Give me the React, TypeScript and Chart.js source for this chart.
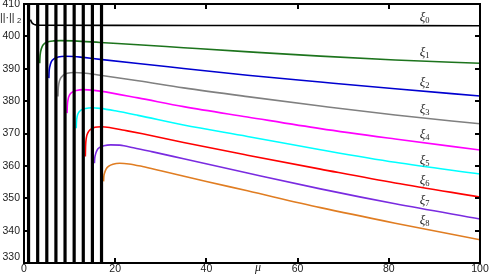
import React, { useEffect, useRef } from "react";
import { Chart, registerables } from "chart.js";

Chart.register(...registerables);

// vertical black bars (μ positions)
const barMu = [1, 3, 5, 7, 9, 11, 13, 15, 17];

// axis ticks
const xTicks = [0, 20, 40, 60, 80, 100];
const yTicks = [330, 340, 350, 360, 370, 380, 390, 400, 410];

// series: μ values and norms
const xi0Mu = [1.4, 1.7, 2.1, 2.6, 3.5, 20, 50, 100];
const xi0Val = [405.2, 404.3, 403.8, 403.55, 403.45, 403.4, 403.35, 403.3];

const xi1Mu = [3.45, 3.5, 3.65, 4.0, 4.6, 5.5, 6.5, 8, 11, 16.7, 25, 35, 48.5, 65, 81.4, 100];
const xi1Val = [391.7, 393.5, 395.3, 396.9, 397.9, 398.4, 398.6, 398.7, 398.6, 398.1, 397.4, 396.5, 395.3, 393.9, 392.7, 391.7];

const xi2Mu = [5.45, 5.5, 5.65, 6.0, 6.6, 7.5, 9, 11, 13, 16.7, 25, 35, 49, 65, 81.4, 100];
const xi2Val = [387.1, 389.0, 390.6, 392.2, 393.1, 393.6, 393.85, 393.8, 393.5, 392.9, 391.6, 390.1, 388.0, 385.9, 383.8, 381.6];

const xi3Mu = [7.45, 7.5, 7.65, 8.0, 8.6, 9.5, 11, 13, 16.7, 25, 35, 49, 65, 81.4, 100];
const xi3Val = [381.4, 383.5, 385.5, 387.0, 388.0, 388.6, 388.85, 388.7, 388.0, 386.3, 384.1, 381.4, 378.5, 375.7, 373.0];

const xi4Mu = [9.45, 9.5, 9.65, 10.0, 10.6, 11.5, 13, 15, 16.7, 25, 35, 49, 65, 81.4, 100];
const xi4Val = [376.3, 378.5, 380.4, 381.9, 382.8, 383.3, 383.55, 383.4, 383.1, 381.0, 378.3, 375.1, 371.5, 368.3, 364.9];

const xi5Mu = [11.45, 11.5, 11.65, 12.0, 12.6, 13.5, 15, 16.7, 20, 25, 35, 49, 65, 81.4, 100];
const xi5Val = [371.6, 373.5, 375.2, 376.5, 377.3, 377.75, 377.95, 377.75, 377.0, 375.6, 372.6, 369.1, 365.0, 361.1, 357.5];

const xi6Mu = [13.45, 13.5, 13.65, 14.0, 14.6, 15.5, 17, 19, 22, 26, 35, 49, 65, 81.4, 100];
const xi6Val = [362.9, 366.0, 368.5, 370.2, 371.3, 371.9, 372.1, 371.8, 371.0, 369.9, 367.2, 363.3, 359.0, 354.7, 350.4];

const xi7Mu = [15.45, 15.5, 15.65, 16.0, 16.6, 17.5, 19, 21, 24, 28, 35, 49, 65, 81.4, 100];
const xi7Val = [360.8, 362.2, 363.4, 364.8, 365.7, 366.2, 366.5, 366.4, 365.6, 364.4, 362.2, 357.8, 352.9, 348.3, 343.6];

const xi8Mu = [17.45, 17.5, 17.65, 18.0, 18.6, 19.5, 21, 23, 26, 30, 40, 49, 65, 81.4, 100];
const xi8Val = [355.2, 356.6, 357.7, 359.0, 359.9, 360.5, 360.8, 360.6, 359.8, 358.5, 355.2, 352.3, 347.1, 342.3, 337.2];

const seriesNames = ["0", "1", "2", "3", "4", "5", "6", "7", "8"];
const seriesMu = [xi0Mu, xi1Mu, xi2Mu, xi3Mu, xi4Mu, xi5Mu, xi6Mu, xi7Mu, xi8Mu];
const seriesVal = [xi0Val, xi1Val, xi2Val, xi3Val, xi4Val, xi5Val, xi6Val, xi7Val, xi8Val];
const seriesColors = [
  "#000000",
  "#1d741d",
  "#0000d0",
  "#808080",
  "#ff00ff",
  "#00ffff",
  "#ff0000",
  "#7a2be0",
  "#e07d22",
];

// label anchor (data coordinates) for ξ labels
const labelMu = 88;
const labelVal = [405.7, 394.9, 385.6, 377.3, 369.6, 361.5, 355.4, 349.2, 343.0];

const framePlugin = {
  id: "framePlugin",
  afterDatasetsDraw(chart: any) {
    const { ctx, chartArea, scales } = chart;
    const xs = scales.x;
    const ys = scales.y;
    const { left, right, top, bottom } = chartArea;
    ctx.save();
    ctx.strokeStyle = "#000";
    ctx.lineWidth = 2;
    ctx.strokeRect(left, top, right - left, bottom - top);
    // inward ticks
    ctx.lineWidth = 2;
    ctx.beginPath();
    xTicks.forEach((v) => {
      if (v === xTicks[0] || v === xTicks[xTicks.length - 1]) return;
      const px = Math.round(xs.getPixelForValue(v));
      ctx.moveTo(px, bottom);
      ctx.lineTo(px, bottom - 5);
      ctx.moveTo(px, top);
      ctx.lineTo(px, top + 5);
    });
    yTicks.forEach((v) => {
      if (v === yTicks[0] || v === yTicks[yTicks.length - 1]) return;
      const py = Math.round(ys.getPixelForValue(v));
      ctx.moveTo(left, py);
      ctx.lineTo(left + 5, py);
      ctx.moveTo(right, py);
      ctx.lineTo(right - 5, py);
    });
    ctx.stroke();

    // y tick labels
    ctx.fillStyle = "#222";
    ctx.font = '10.5px "Liberation Sans", Arial, sans-serif';
    ctx.textAlign = "right";
    ctx.textBaseline = "middle";
    yTicks.forEach((v, i) => {
      let py = ys.getPixelForValue(v);
      if (i === 0) py -= 6;
      ctx.fillText(String(v), left - 4, py);
    });

    // y axis title ||·||₂
    ctx.textAlign = "left";
    ctx.textBaseline = "alphabetic";
    ctx.font = '10.5px "Liberation Sans", Arial, sans-serif';
    ctx.fillText("||·||", 0, 21);
    ctx.font = '7.5px "Liberation Sans", Arial, sans-serif';
    ctx.fillText("2", 17, 23);

    // x axis title μ
    ctx.font = 'italic 12px "Liberation Serif", "DejaVu Serif", serif';
    ctx.textAlign = "center";
    ctx.fillText("μ", 258, 271);

    // ξ labels
    seriesNames.forEach((n, i) => {
      const px = xs.getPixelForValue(labelMu);
      const py = ys.getPixelForValue(labelVal[i]);
      ctx.textAlign = "right";
      ctx.font = 'italic 13px "Liberation Serif", "DejaVu Serif", serif';
      ctx.fillText("ξ", px, py + 3);
      ctx.textAlign = "left";
      ctx.font = '8.5px "Liberation Serif", "DejaVu Serif", serif';
      ctx.fillText(n, px, py + 5);
    });
    ctx.restore();
  },
};

export default function App() {
  const ref = useRef<HTMLCanvasElement | null>(null);
  useEffect(() => {
    document.body.style.margin = "0";
    if (!ref.current) return;
    const barSets = barMu.map((m) => ({
      label: "bar" + m,
      data: [
        { x: m, y: 330 },
        { x: m, y: 410 },
      ],
      borderColor: "#000",
      borderWidth: 3.2,
      pointRadius: 0,
      order: 0,
    }));
    const curveSets = seriesNames.map((n, i) => ({
      label: "ξ" + n,
      data: seriesMu[i].map((m, j) => ({ x: m, y: seriesVal[i][j] })),
      borderColor: seriesColors[i],
      borderWidth: 1.6,
      pointRadius: 0,
      cubicInterpolationMode: "monotone" as const,
      order: 1,
    }));
    const chart = new Chart(ref.current, {
      type: "line",
      data: { datasets: [...barSets, ...curveSets] as any },
      options: {
        responsive: false,
        animation: false,
        devicePixelRatio: 1,
        layout: { padding: { left: 0, right: 11, top: 4, bottom: 0 } },
        plugins: { legend: { display: false }, tooltip: { enabled: false } },
        scales: {
          x: {
            type: "linear",
            min: 0,
            max: 100,
            afterBuildTicks: (s: any) => {
              s.ticks = xTicks.map((v) => ({ value: v }));
            },
            afterFit: (s: any) => {
              s.height = 15;
            },
            grid: { display: false, drawTicks: false },
            border: { display: false },
            ticks: {
              padding: 0,
              color: "#222",
              font: { family: '"Liberation Sans", Arial, sans-serif', size: 10.5 },
              maxRotation: 0,
              autoSkip: false,
            },
          },
          y: {
            type: "linear",
            min: 330,
            max: 410,
            afterBuildTicks: (s: any) => {
              s.ticks = yTicks.map((v) => ({ value: v }));
            },
            afterFit: (s: any) => {
              s.width = 24;
            },
            grid: { display: false, drawTicks: false },
            border: { display: false },
            ticks: { display: false },
          },
        },
      },
      plugins: [framePlugin],
    });
    return () => chart.destroy();
  }, []);
  return (
    <div style={{ position: "fixed", left: 0, top: 0, width: 491, height: 278 }}>
      <canvas ref={ref} width={491} height={278} style={{ width: 491, height: 278 }} />
    </div>
  );
}
